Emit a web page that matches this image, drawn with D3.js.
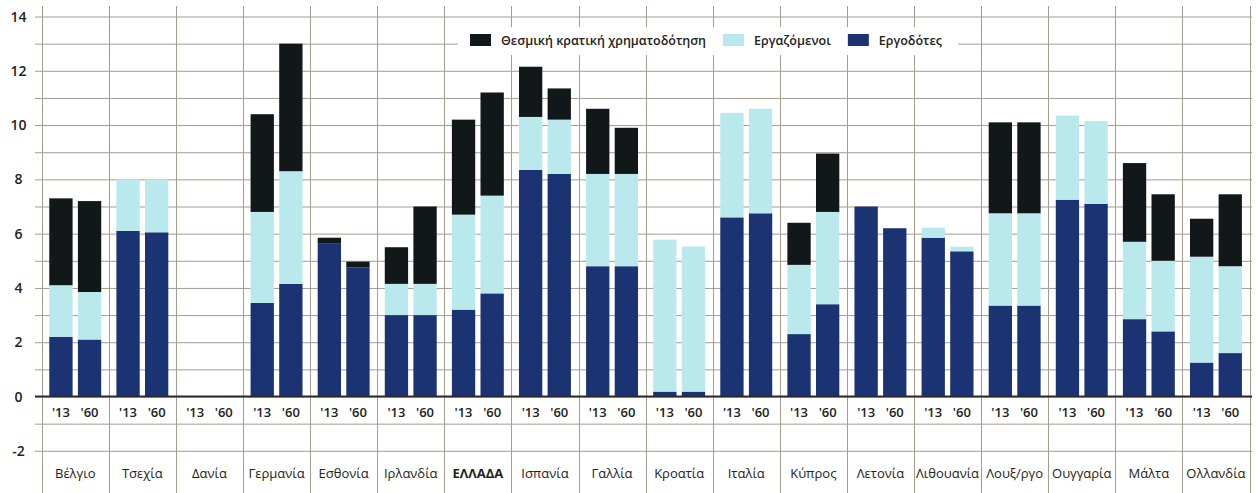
<!DOCTYPE html>
<html lang="el">
<head>
<meta charset="UTF-8">
<title>Εισφορές</title>
<script src="https://d3js.org/d3.v7.min.js"></script>
<style>
  body { margin: 0; background: #fff; }
  text { font-family: "Open Sans", "Noto Sans", sans-serif; fill: #222; }
</style>
</head>
<body>
<div id="chart"></div>
<script>
    // χώρες και έτη
    let countries = ["Βέλγιο","Τσεχία","Δανία","Γερμανία","Εσθονία","Ιρλανδία","ΕΛΛΑΔΑ","Ισπανία","Γαλλία",
                     "Κροατία","Ιταλία","Κύπρος","Λετονία","Λιθουανία","Λουξ/ργο","Ουγγαρία","Μάλτα","Ολλανδία"],
        years = ["'13","'60"],
        seriesNames = ["Θεσμική κρατική χρηματοδότηση","Εργαζόμενοι","Εργοδότες"],
        yTicks = [-2,0,2,4,6,8,10,12,14];

    // τιμές ανά σειρά (2013 / 2060)
    let employers13 = [2.2,6.1,0,3.45,5.65,3.0,3.2,8.35,4.8,0.18,6.6,2.3,7.0,5.85,3.35,7.25,2.85,1.25],
        employees13 = [1.9,1.9,0,3.35,0,1.15,3.5,1.95,3.4,5.6,3.85,2.55,0,0.37,3.4,3.1,2.85,3.9],
        state13     = [3.2,0,0,3.6,0.2,1.35,3.5,1.85,2.4,0,0,1.55,0,0,3.35,0,2.9,1.4],
        employers60 = [2.1,6.05,0,4.15,4.75,3.0,3.8,8.2,4.8,0.18,6.75,3.4,6.2,5.35,3.35,7.1,2.4,1.6],
        employees60 = [1.75,1.95,0,4.15,0,1.15,3.6,2.0,3.4,5.35,3.85,3.4,0,0.17,3.4,3.05,2.6,3.2],
        state60     = [3.35,0,0,4.7,0.22,2.85,3.8,1.15,1.7,0,0,2.15,0,0,3.35,0,2.45,2.65];

    let W = 1258, H = 493,
        colors = {"Εργοδότες":"#1b3372","Εργαζόμενοι":"#bae9ed","Θεσμική κρατική χρηματοδότηση":"#121819"},
        gridColor = "#a39c8f";

    let rows = [];
    countries.forEach((c,i)=>{
        rows.push({country:c, year:years[0], "Εργοδότες":employers13[i], "Εργαζόμενοι":employees13[i], "Θεσμική κρατική χρηματοδότηση":state13[i]});
        rows.push({country:c, year:years[1], "Εργοδότες":employers60[i], "Εργαζόμενοι":employees60[i], "Θεσμική κρατική χρηματοδότηση":state60[i]});
    });

    let x = d3.scaleBand().domain(countries).range([41.7,1249.5]).padding(0),
        xi = d3.scaleBand().domain(years).range([0,x.bandwidth()]).paddingInner(0.185).paddingOuter(0.265),
        y = d3.scaleLinear().domain([-2,14]).range([450.8,16.5]);

    let svg = d3.select("#chart").append("svg").attr("width",W).attr("height",H);

    // οριζόντιες γραμμές πλέγματος
    svg.append("g").selectAll("line").data(d3.range(-2,15)).enter().append("line")
        .attr("x1",35).attr("x2",1252)
        .attr("y1",d=>y(d)+0.5).attr("y2",d=>y(d)+0.5)
        .style("stroke",gridColor).style("stroke-width",1);

    // κάθετοι διαχωριστές χωρών
    let seps = countries.map(c=>x(c)).concat([x.range()[1]]);
    svg.append("g").selectAll("line").data(seps).enter().append("line")
        .attr("x1",d=>Math.round(d)+0.5).attr("x2",d=>Math.round(d)+0.5)
        .attr("y1",6).attr("y2",H)
        .style("stroke",gridColor).style("stroke-width",1);

    // ράβδοι
    let stack = d3.stack().keys(["Εργοδότες","Εργαζόμενοι","Θεσμική κρατική χρηματοδότηση"])(rows);
    svg.append("g").selectAll("g").data(stack).enter().append("g")
        .style("fill",d=>colors[d.key])
        .selectAll("rect").data(d=>d).enter().append("rect")
        .attr("x",d=>x(d.data.country)+xi(d.data.year))
        .attr("width",xi.bandwidth())
        .attr("y",d=>y(d[1]))
        .attr("height",d=>Math.max(0,y(d[0])-y(d[1])));

    // άξονας μηδέν
    svg.append("line").attr("x1",35).attr("x2",1252).attr("y1",y(0)).attr("y2",y(0))
        .style("stroke","#2b2b2b").style("stroke-width",2);

    // ετικέτες άξονα y
    svg.append("g").selectAll("text").data(yTicks).enter().append("text")
        .attr("x",18.5).attr("y",d=>y(d)+5)
        .attr("text-anchor","middle")
        .style("font-size","14px").style("font-weight",600)
        .text(d=>d);

    // ετικέτες ετών
    svg.append("g").selectAll("text").data(rows).enter().append("text")
        .attr("x",d=>x(d.country)+xi(d.year)+xi.bandwidth()/2)
        .attr("y",417)
        .attr("text-anchor","middle")
        .style("font-size","13px").style("font-weight",600)
        .text(d=>d.year);

    // ονόματα χωρών
    svg.append("g").selectAll("text").data(countries).enter().append("text")
        .attr("x",d=>x(d)+x.bandwidth()/2)
        .attr("y",478)
        .attr("text-anchor","middle")
        .style("font-size","13px")
        .style("font-weight",d=>d=="ΕΛΛΑΔΑ"?700:500)
        .text(d=>d);

    // υπόμνημα
    let leg = svg.append("g");
    leg.append("rect").attr("x",458).attr("y",27).attr("width",500).attr("height",28).style("fill","#fff");
    let lx = 470;
    seriesNames.forEach(n=>{
        leg.append("rect").attr("x",lx).attr("y",34).attr("width",21).attr("height",12).style("fill",colors[n]);
        let t = leg.append("text").attr("x",lx+31).attr("y",45)
            .style("font-size","12.5px").style("font-weight",600).text(n);
        lx += 31 + t.node().getComputedTextLength() + 17;
    });
</script>
</body>
</html>
